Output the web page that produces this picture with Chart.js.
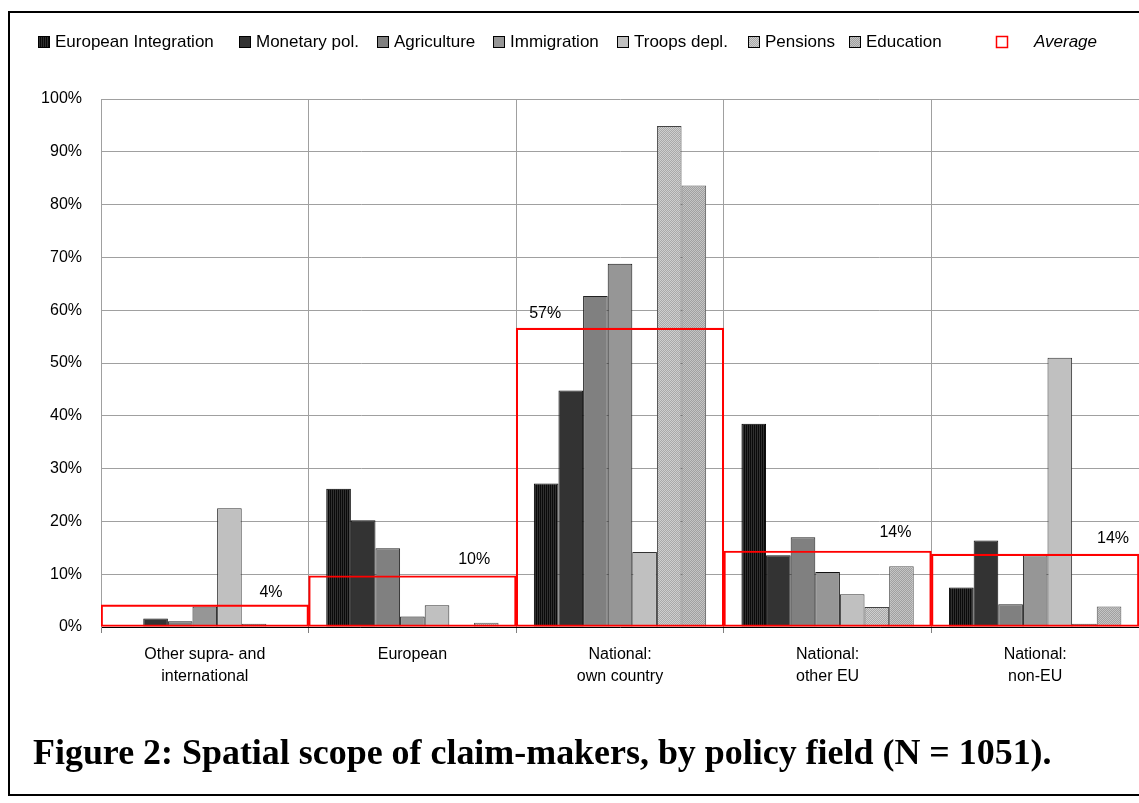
<!DOCTYPE html>
<html>
<head>
<meta charset="utf-8">
<script src="https://cdn.jsdelivr.net/npm/chart.js@4.4.0/dist/chart.umd.min.js"></script>
<style>
  html, body { margin: 0; padding: 0; background: #fff; }
  #wrap { position: relative; width: 1139px; height: 803px; overflow: hidden; }
</style>
</head>
<body>
<div id="wrap"><canvas id="chart" width="1139" height="803"></canvas></div>
<script>
const categories = [
  ["Other supra- and", "international"],
  ["European"],
  ["National:", "own country"],
  ["National:", "other EU"],
  ["National:", "non-EU"]
];
const seriesNames = ["European Integration", "Monetary pol.", "Agriculture", "Immigration", "Troops depl.", "Pensions", "Education"];
const europeanIntegration = [0, 26.2, 27.2, 38.5, 7.5];
const monetaryPol = [1.6, 20.2, 44.8, 13.6, 16.4];
const agriculture = [1.1, 14.9, 62.7, 17.0, 4.3];
const immigration = [3.9, 2.0, 68.8, 10.4, 13.6];
const troopsDepl = [22.5, 4.1, 14.2, 6.2, 51.0];
const pensions = [0.6, 0, 94.9, 3.8, 0.6];
const education = [0, 0.8, 83.6, 11.5, 3.9];
const average = [4.2, 9.7, 56.6, 14.4, 13.8];
const averageLabels = ["4%", "10%", "57%", "14%", "14%"];
const averageName = "Average";
const titleText = "Figure 2: Spatial scope of claim-makers, by policy field (N = 1051).";

const FONT = "'Liberation Sans', Arial, sans-serif";

// legend layout (left edge of each swatch), taken from the original figure
const legendX = [38, 239, 377, 493, 617, 748, 849];
const legendAvgX = 996;
const legendAvgTextX = 1034;

// where each "x%" label sits relative to its red box
const avgLabelSide = ["right", "right", "left", "right", "right"];
const avgLabelDx = [26, 26, 13, 20, 10];
const avgLabelDy = [12, 16, 15, 18, 16];

function makePattern(w, h, pixels) {
  const c = document.createElement("canvas");
  c.width = w; c.height = h;
  const g = c.getContext("2d");
  pixels.forEach((col, i) => {
    g.fillStyle = col;
    g.fillRect(i % w, Math.floor(i / w), 1, 1);
  });
  return g.createPattern(c, "repeat");
}

const stripes = makePattern(2, 1, ["#0a0a0a", "#303030"]);
const dotsLight = makePattern(2, 2, ["#cfcfcf", "#a9a9a9", "#a9a9a9", "#cfcfcf"]);
const dotsMid = makePattern(2, 2, ["#c4c4c4", "#a0a0a0", "#a0a0a0", "#c4c4c4"]);

const fills = [stripes, "#333333", "#808080", "#969696", "#c0c0c0", dotsLight, dotsMid];
const borders = ["#000", "#111", "#222", "#111", "#333", "#444", "#555"];
const values = [europeanIntegration, monetaryPol, agriculture, immigration, troopsDepl, pensions, education];

const datasets = [{
  label: averageName,
  data: average,
  backgroundColor: "rgba(0,0,0,0)",
  borderColor: "#ff0000",
  borderWidth: 1.5,
  borderSkipped: false,
  grouped: false,
  categoryPercentage: 1,
  barPercentage: 1,
  order: -1
}];
seriesNames.forEach((n, i) => {
  datasets.push({
    label: n,
    data: values[i],
    backgroundColor: fills[i],
    borderColor: borders[i],
    borderWidth: 1,
    categoryPercentage: 0.83,
    barPercentage: 1
  });
});

const framePlugin = {
  id: "frame",
  beforeDraw(chart) {
    const c = chart.ctx;
    c.save();
    c.fillStyle = "#fff";
    c.fillRect(0, 0, chart.width, chart.height);
    c.strokeStyle = "#000";
    c.lineWidth = 2;
    c.strokeRect(9, 12, 1140, 783);
    c.restore();
  }
};

const legendPlugin = {
  id: "customLegend",
  afterDraw(chart) {
    const c = chart.ctx;
    c.save();
    c.font = "17px " + FONT;
    c.textBaseline = "middle";
    const y = 42;
    seriesNames.forEach((n, i) => {
      const x = legendX[i];
      c.fillStyle = fills[i];
      c.fillRect(x, y - 6, 12, 12);
      c.strokeStyle = "#000";
      c.lineWidth = 1;
      c.strokeRect(x + 0.5, y - 5.5, 11, 11);
      c.fillStyle = "#000";
      c.fillText(n, x + 17, y);
    });
    c.strokeStyle = "#ff0000";
    c.lineWidth = 1.5;
    c.strokeRect(legendAvgX + 0.5, y - 5.5, 11, 11);
    c.font = "italic 17px " + FONT;
    c.fillStyle = "#000";
    c.fillText(averageName, legendAvgTextX, y);
    c.restore();
  }
};

const avgLabelPlugin = {
  id: "avgLabels",
  afterDatasetsDraw(chart) {
    const meta = chart.getDatasetMeta(0);
    const c = chart.ctx;
    c.save();
    c.font = "16px " + FONT;
    c.fillStyle = "#000";
    c.textBaseline = "middle";
    meta.data.forEach((el, i) => {
      const left = el.x - el.width / 2;
      const right = el.x + el.width / 2;
      const y = el.y - avgLabelDy[i];
      if (avgLabelSide[i] === "left") {
        c.textAlign = "left";
        c.fillText(averageLabels[i], left + avgLabelDx[i], y);
      } else {
        c.textAlign = "right";
        c.fillText(averageLabels[i], right - avgLabelDx[i], y);
      }
    });
    c.restore();
  }
};

const titlePlugin = {
  id: "figTitle",
  afterDraw(chart) {
    const c = chart.ctx;
    c.save();
    let size = 30;
    c.font = "bold " + size + "px 'Liberation Serif', 'Times New Roman', serif";
    const w = c.measureText(titleText).width;
    size = size * 1019 / w;
    c.font = "bold " + size.toFixed(2) + "px 'Liberation Serif', 'Times New Roman', serif";
    c.fillStyle = "#000";
    c.textBaseline = "alphabetic";
    c.textAlign = "left";
    c.fillText(titleText, 33, 764);
    c.restore();
  }
};

new Chart(document.getElementById("chart"), {
  type: "bar",
  data: { labels: categories, datasets },
  options: {
    responsive: false,
    animation: false,
    layout: { padding: { top: 99, left: 0, right: 0, bottom: 80 } },
    plugins: { legend: { display: false }, tooltip: { enabled: false } },
    scales: {
      x: {
        offset: true,
        grid: { color: "#a0a0a0", offset: true, drawTicks: true, tickLength: 6, tickColor: "#808080" },
        border: { color: "#000", width: 1 },
        ticks: { font: { family: FONT, size: 16, lineHeight: 1.4 }, color: "#000", padding: 10, maxRotation: 0, autoSkip: false },
        afterFit(s) { s.height = 96; }
      },
      y: {
        min: 0,
        max: 100,
        grid: { color: "#a0a0a0", drawTicks: false },
        border: { color: "#a0a0a0" },
        ticks: { stepSize: 10, font: { family: FONT, size: 16 }, color: "#000", padding: 19, callback: v => v + "%" },
        afterFit(s) { s.width = 101; }
      }
    }
  },
  plugins: [framePlugin, legendPlugin, avgLabelPlugin, titlePlugin]
});
</script>
</body>
</html>
